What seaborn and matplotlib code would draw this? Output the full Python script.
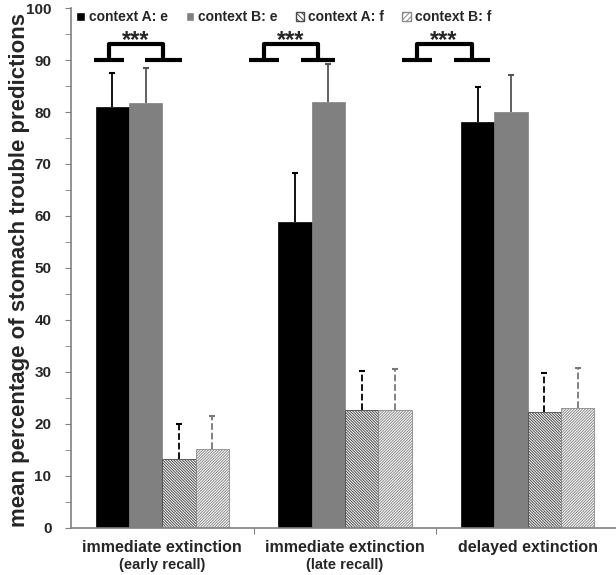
import matplotlib
matplotlib.use("Agg")
import matplotlib.pyplot as plt
import numpy as np
import pandas as pd
import seaborn as sns

# data
groups = ["immediate extinction", "immediate extinction ", "delayed extinction"]
group_notes = ["(early recall)", "(late recall)", ""]
conditions = ["context A: e", "context B: e", "context A: f", "context B: f"]
means = {
    "context A: e": [81.0, 58.8, 78.0],
    "context B: e": [81.8, 81.9, 80.0],
    "context A: f": [13.3, 22.7, 22.3],
    "context B: f": [15.2, 22.7, 23.0],
}
errors = {
    "context A: e": [6.6, 9.4, 6.8],
    "context B: e": [6.6, 7.3, 7.1],
    "context A: f": [6.7, 7.5, 7.4],
    "context B: f": [6.3, 7.9, 7.8],
}
# significance brackets (left segment, left vertical, right vertical, right segment end), in category units
bracket_x = [
    (-0.373, -0.291, 0.006, 0.106),
    (0.474, 0.557, 0.854, 0.948),
    (1.311, 1.394, 1.697, 1.795),
]

bar_colors = ["#000000", "#808080", "#ffffff", "#ffffff"]
hatches = [None, None, "\\" * 12, "/" * 12]
hatch_colors = [None, None, "#4a4a4a", "#8a8a8a"]
err_colors = ["#000000", "#555555", "#000000", "#777777"]
err_styles = ["-", "-", "--", "--"]

rows = []
for c in conditions:
    for g, m in zip(groups, means[c]):
        rows.append({"group": g, "condition": c, "value": m})
df = pd.DataFrame(rows)

sns.set_style("white")
plt.rcParams["font.family"] = ["Liberation Sans", "DejaVu Sans"]
plt.rcParams["hatch.linewidth"] = 0.7

fig = plt.figure(figsize=(6.16, 5.75), dpi=100)
ax = fig.add_axes([0.115, 0.082, 0.89, 0.904])

sns.barplot(data=df, x="group", y="value", hue="condition", order=groups,
            hue_order=conditions, palette=bar_colors, errorbar=None,
            width=0.73, gap=0, saturation=1, ax=ax, legend=True)

bar_conts = list(ax.containers)[:4]
for i, cont in enumerate(bar_conts):
    cond = conditions[i]
    for j, bar in enumerate(cont):
        if hatches[i]:
            bar.set_hatch(hatches[i])
            bar.set_edgecolor(hatch_colors[i])
            bar.set_linewidth(0.6)
        else:
            bar.set_edgecolor(bar_colors[i])
            bar.set_linewidth(0.5)
        xc = bar.get_x() + bar.get_width() / 2
        el = ax.errorbar(xc, means[cond][j], yerr=[[0], [errors[cond][j]]],
                         fmt="none", ecolor=err_colors[i], elinewidth=1.3,
                         capsize=2.5, capthick=1.5)
        el[1][0].set_visible(False)
        el[2][0].set_linestyle(err_styles[i])

# significance brackets
for b in bracket_x:
    ax.plot([b[0], b[1] + (b[1] - b[0])], [90, 90], color="black", lw=3, solid_capstyle="butt")
    ax.plot([b[2] - (b[3] - b[2]), b[3]], [90, 90], color="black", lw=3, solid_capstyle="butt")
    ax.plot([b[1], b[1], b[2], b[2]], [90, 93, 93, 90], color="black", lw=3)
    ax.text((b[1] + b[2]) / 2 - 0.005, 91.6, "***", ha="center", va="bottom",
            fontsize=17, fontweight="bold")

ax.set_ylim(0, 100)
ax.set_xlim(-0.5, 2.5)
ax.set_yticks(np.arange(0, 101, 10))
ax.set_yticks(np.arange(5, 100, 10), minor=True)
ax.tick_params(axis="y", which="both", direction="out", left=True, length=4,
               color="#808080", labelsize=11, pad=10)
for lab in ax.get_yticklabels():
    lab.set_fontweight("bold")

ax.set_xticks([0.5, 1.5])
ax.set_xticklabels([])
ax.tick_params(axis="x", direction="out", bottom=True, length=4, color="#808080")
for k, (g, note) in enumerate(zip(groups, group_notes)):
    ax.text(k, -0.023, g.strip(), transform=ax.get_xaxis_transform(), ha="center",
            va="top", fontsize=11.5, fontweight="bold")
    if note:
        ax.text(k, -0.058, note, transform=ax.get_xaxis_transform(), ha="center",
                va="top", fontsize=10.5, fontweight="bold")

ax.set_xlabel("")
ax.set_ylabel("mean percentage of stomach trouble predictions", fontsize=16,
              fontweight="bold")
ax.yaxis.set_label_coords(-0.075, 0.496)

sns.despine(ax=ax)
for s in ["left", "bottom"]:
    ax.spines[s].set_color("#808080")
    ax.spines[s].set_linewidth(1.2)

handles, labels = ax.get_legend_handles_labels()
handles = handles[:4]
for i, h in enumerate(handles):
    if hatches[i]:
        h.set_hatch("\\" * 6 if i == 2 else "/" * 6)
        h.set_edgecolor(hatch_colors[i])
ax.legend(handles, labels[:4], ncol=4, loc="upper left", bbox_to_anchor=(-0.013, 1.02),
          frameon=False, handlelength=0.6, handleheight=0.6, handletextpad=0.3,
          columnspacing=1.3, prop={"weight": "bold", "size": 10})

plt.savefig("out.png", dpi=100)
